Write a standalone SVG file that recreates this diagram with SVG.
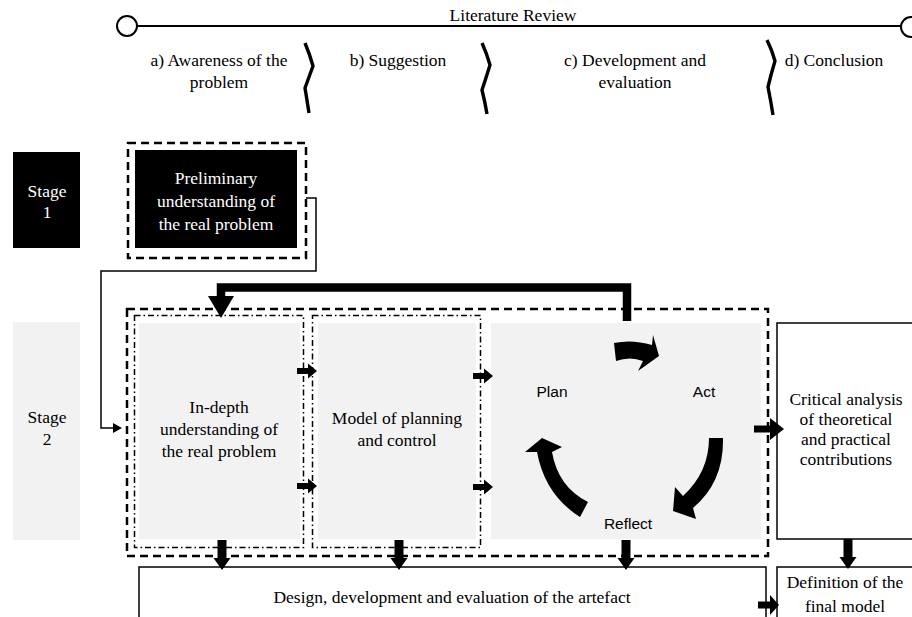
<svg xmlns="http://www.w3.org/2000/svg" width="912" height="617" viewBox="0 0 912 617">
<style>
.t{font-family:"Liberation Serif","Times New Roman",serif;font-size:17.5px;fill:#000;text-anchor:middle}
.w{fill:#fff}
.s{font-family:"Liberation Sans",Arial,sans-serif;font-size:15.5px;fill:#000;text-anchor:middle}
.dash{fill:none;stroke:#000;stroke-width:2.5;stroke-dasharray:8 5}
.dd{fill:none;stroke:#000;stroke-width:1.5;stroke-dasharray:6 3 1.5 3}
.br{fill:none;stroke:#000;stroke-width:3.4;stroke-linejoin:round}
.gray{fill:#f2f2f2}
.box{fill:#fff;stroke:#000;stroke-width:1.5}
</style>
<defs>
<path id="ra" d="M0,-3 H11 V-7.5 L20,0 L11,7.5 V3 H0 Z" fill="#000"/>
<path id="da" d="M-4.5,0 V18 H-8.5 L0,30 L8.5,18 H4.5 V0 Z" fill="#000"/>
</defs>

<g id="timeline">
<line x1="137" y1="26" x2="901" y2="26" stroke="#000" stroke-width="2"/>
<circle cx="127" cy="26" r="10" fill="#fff" stroke="#000" stroke-width="2"/>
<circle cx="911" cy="27" r="10" fill="#fff" stroke="#000" stroke-width="2"/>
<text class="t" x="513" y="21">Literature Review</text>
</g>

<g id="phases">
<path class="br" d="M305,43 Q310,55 313,66 Q309,77 305,88 Q307,100 309,113"/>
<path class="br" d="M482,43 Q487,54 490,65 Q486,78 482,90 Q485,102 487,114"/>
<path class="br" d="M767,40 Q772,50 775,61 Q771,74 768,87 Q771,102 773,115"/>
<text class="t" x="219" y="66">a) Awareness of the</text>
<text class="t" x="219" y="88">problem</text>
<text class="t" x="398" y="66">b) Suggestion</text>
<text class="t" x="635" y="66">c) Development and</text>
<text class="t" x="635" y="88">evaluation</text>
<text class="t" x="834" y="66">d) Conclusion</text>
</g>

<g id="stage1">
<rect x="13" y="152" width="67" height="96" fill="#000"/>
<text class="t w" x="47" y="197">Stage</text>
<text class="t w" x="47" y="218">1</text>
</g>

<g id="preliminary">
<rect class="dash" x="128" y="143" width="178" height="115"/>
<rect x="135" y="150" width="162" height="98" fill="#000"/>
<text class="t w" x="216" y="184">Preliminary</text>
<text class="t w" x="216" y="207">understanding of</text>
<text class="t w" x="216" y="230">the real problem</text>
</g>

<g id="stage2">
<rect class="gray" x="13" y="322" width="67" height="218"/>
<text class="t" x="47" y="423">Stage</text>
<text class="t" x="47" y="445">2</text>
</g>

<g id="stage2-frame">
<rect class="dash" x="127" y="309" width="641" height="247"/>
</g>

<g id="in-depth">
<rect class="dd" x="134.5" y="315.5" width="169" height="232"/>
<rect class="gray" x="139" y="323" width="161" height="216"/>
<text class="t" x="219" y="413">In-depth</text>
<text class="t" x="219" y="435">understanding of</text>
<text class="t" x="219" y="457">the real problem</text>
</g>

<g id="model">
<rect class="dd" x="312.5" y="315.5" width="168" height="232"/>
<rect class="gray" x="318" y="323" width="158" height="216"/>
<text class="t" x="397" y="424">Model of planning</text>
<text class="t" x="397" y="446">and control</text>
</g>

<g id="pdca">
<rect class="gray" x="491" y="323" width="270" height="216"/>
<text class="s" x="552" y="397">Plan</text>
<text class="s" x="704" y="397">Act</text>
<text class="s" x="628" y="529">Reflect</text>
<path d="M614,343 Q632,339 652,345 L653,335 L659,356 L638,371 L643,361 Q630,356 616,361 Z" fill="#000"/>
<path d="M709,438 L723,438 Q724,482 693,508 L696,519 L673,511 L675,487 L683,496 Q709,472 709,438 Z" fill="#000"/>
<path d="M580,517 Q545,495 537,452 L525,452 L542,438 L562,447 L552,452 Q558,487 588,502 Z" fill="#000"/>
</g>

<g id="critical">
<rect class="box" x="777" y="323" width="140" height="216"/>
<text class="t" x="846" y="405">Critical analysis</text>
<text class="t" x="846" y="425">of theoretical</text>
<text class="t" x="846" y="445">and practical</text>
<text class="t" x="846" y="465">contributions</text>
</g>

<g id="design">
<rect class="box" x="139" y="567" width="627" height="60"/>
<text class="t" x="452" y="603">Design, development and evaluation of the artefact</text>
</g>

<g id="definition">
<rect class="box" x="777" y="567" width="140" height="60"/>
<text class="t" x="845" y="588">Definition of the</text>
<text class="t" x="845" y="612">final model</text>
</g>

<g id="connectors">
<path d="M306,198 H316 V271 H101 V428 H114" fill="none" stroke="#000" stroke-width="1.5"/>
<polygon points="113,423 122,428 113,433" fill="#000"/>
<path d="M627,321 V287.5 H221 V298" fill="none" stroke="#000" stroke-width="8.5"/>
<polygon points="208,296 234,296 221,318" fill="#000"/>
<use href="#ra" x="297" y="371"/>
<use href="#ra" x="297" y="486"/>
<use href="#ra" x="473" y="376"/>
<use href="#ra" x="473" y="487"/>
<path d="M754,425.5 H770 V418 L784,429 L770,440 V432.5 H754 Z" fill="#000"/>
<path d="M758,601.5 H770 V595 L779,605 L770,615 V608.5 H758 Z" fill="#000"/>
<use href="#da" x="222" y="540"/>
<use href="#da" x="399" y="540"/>
<use href="#da" x="626" y="540"/>
<use href="#da" x="848" y="539"/>
</g>
</svg>
